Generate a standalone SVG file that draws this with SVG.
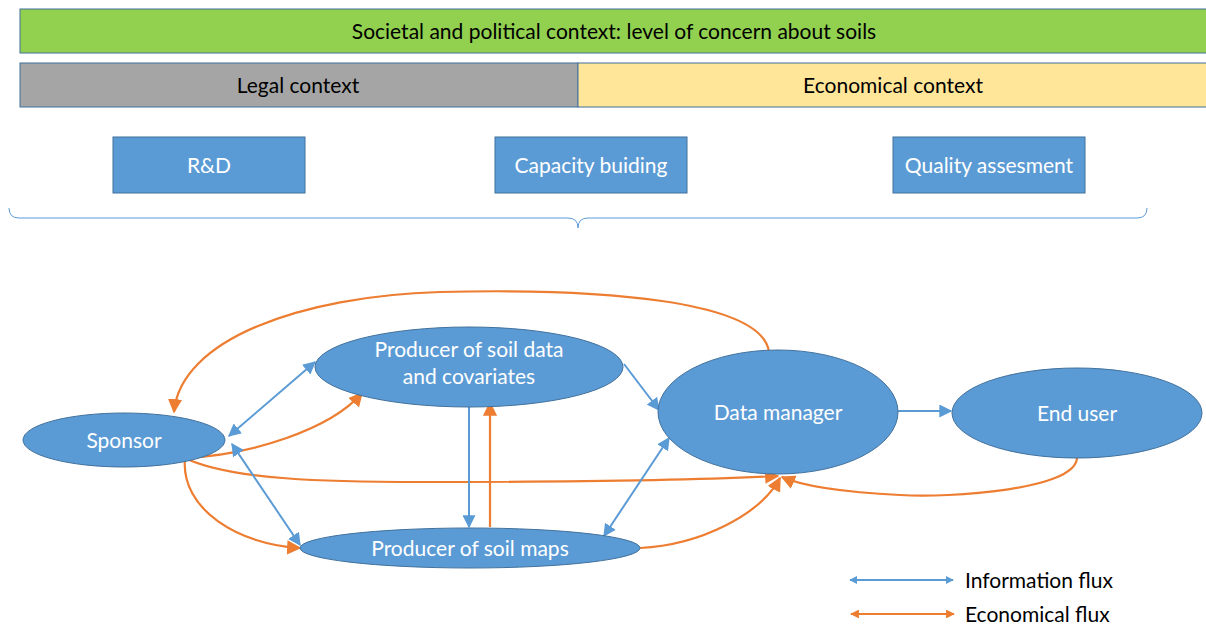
<svg xmlns="http://www.w3.org/2000/svg" width="1206" height="626" viewBox="0 0 1206 626">
<style>
text{font-family:Lato,"Liberation Sans",sans-serif;font-size:21px;text-anchor:middle;dominant-baseline:central}
.dark{fill:#000}
.light{fill:#fff}
.node{fill:#5B9BD5;stroke:#41719C;stroke-width:1}
.info{fill:none;stroke:#5B9BD5;stroke-width:2}
.eco{fill:none;stroke:#ED7D31;stroke-width:2.2}
.leg{text-anchor:start}
</style>
<defs>
<marker id="ab" viewBox="0 0 10 10" refX="9" refY="5" markerWidth="6.5" markerHeight="6.5" orient="auto-start-reverse"><path d="M0,0 L10,5 L0,10 z" fill="#5B9BD5"/></marker>
<marker id="ao" viewBox="0 0 10 10" refX="9" refY="5" markerWidth="6.5" markerHeight="6.5" orient="auto-start-reverse"><path d="M0,0 L10,5 L0,10 z" fill="#ED7D31"/></marker>
<marker id="lb" viewBox="0 0 10 10" refX="9" refY="5" markerWidth="4" markerHeight="4" orient="auto-start-reverse"><path d="M0,0 L10,5 L0,10 z" fill="#5B9BD5"/></marker>
<marker id="lo" viewBox="0 0 10 10" refX="9" refY="5" markerWidth="4" markerHeight="4" orient="auto-start-reverse"><path d="M0,0 L10,5 L0,10 z" fill="#ED7D31"/></marker>
</defs>
<rect width="1206" height="626" fill="#fff"/>

<g id="societal">
<rect x="20" y="9" width="1188" height="44" fill="#92D050" stroke="#41719C" stroke-width="1"/>
<text x="614" y="30" class="dark">Societal and political context: level of concern about soils</text>
</g>
<g id="legal">
<rect x="20" y="63" width="558" height="44" fill="#A5A5A5" stroke="#41719C" stroke-width="1"/>
<text x="298" y="84" class="dark">Legal context</text>
</g>
<g id="economical">
<rect x="578" y="63" width="630" height="44" fill="#FFE699" stroke="#41719C" stroke-width="1"/>
<text x="893" y="84" class="dark">Economical context</text>
</g>
<g id="rd">
<rect x="113" y="137" width="192" height="56" class="node"/>
<text x="209" y="164" class="light">R&amp;D</text>
</g>
<g id="capacity">
<rect x="495" y="137" width="192" height="56" class="node"/>
<text x="591" y="164" class="light">Capacity buiding</text>
</g>
<g id="quality">
<rect x="893" y="137" width="192" height="56" class="node"/>
<text x="989" y="164" class="light">Quality assesment</text>
</g>
<g id="brace">
<path d="M9,208 Q9,218 19,218 L568,218 Q578,218 578,228 Q578,218 588,218 L1137,218 Q1147,218 1147,208" fill="none" stroke="#5B9BD5" stroke-width="1"/>
</g>

<g id="connectors">
<path class="eco" d="M769,352 C762,300 600,288 440,292 C300,296 180,340 174,412" marker-end="url(#ao)"/>
<path class="eco" d="M185,458 C250,455 330,430 362,393" marker-end="url(#ao)"/>
<path class="eco" d="M185,458 C230,480 330,482 420,482 C560,482 700,480 778,476" marker-end="url(#ao)"/>
<path class="eco" d="M185,458 C180,510 240,545 300,548" marker-end="url(#ao)"/>
<path class="eco" d="M490,527 L490,403" marker-end="url(#ao)"/>
<path class="eco" d="M640,548 C700,545 760,515 780,478" marker-end="url(#ao)"/>
<path class="eco" d="M1077,458 C1075,490 950,498 900,495 C840,492 800,485 782,477" marker-end="url(#ao)"/>
<path class="info" d="M229,436 L315,362" marker-start="url(#ab)" marker-end="url(#ab)"/>
<path class="info" d="M232,444 L300,545" marker-start="url(#ab)" marker-end="url(#ab)"/>
<path class="info" d="M469,404 L469,527" marker-end="url(#ab)"/>
<path class="info" d="M624,364 L659,410" marker-end="url(#ab)"/>
<path class="info" d="M604,536 L669,438" marker-start="url(#ab)" marker-end="url(#ab)"/>
<path class="info" d="M898,411 L951,411" marker-end="url(#ab)"/>
</g>

<g id="sponsor">
<ellipse cx="124" cy="440" rx="101" ry="27" class="node"/>
<text x="124" y="439" class="light">Sponsor</text>
</g>
<g id="producer-data">
<ellipse cx="469" cy="367" rx="154" ry="40" class="node"/>
<text x="469" y="348" class="light">Producer of soil data</text>
<text x="469" y="375" class="light">and covariates</text>
</g>
<g id="data-manager">
<ellipse cx="778" cy="412" rx="120" ry="62" class="node"/>
<text x="778" y="411" class="light">Data manager</text>
</g>
<g id="end-user">
<ellipse cx="1077" cy="413" rx="125" ry="45" class="node"/>
<text x="1077" y="412" class="light">End user</text>
</g>
<g id="producer-maps">
<ellipse cx="470" cy="548" rx="170" ry="20" class="node"/>
<text x="470" y="547" class="light">Producer of soil maps</text>
</g>

<g id="legend">
<path class="info" d="M850,580 L953,580" marker-start="url(#lb)" marker-end="url(#lb)"/>
<text x="965" y="579" class="dark leg">Information flux</text>
<path class="eco" d="M851,614 L954,614" marker-start="url(#lo)" marker-end="url(#lo)"/>
<text x="965" y="613" class="dark leg">Economical flux</text>
</g>
</svg>
